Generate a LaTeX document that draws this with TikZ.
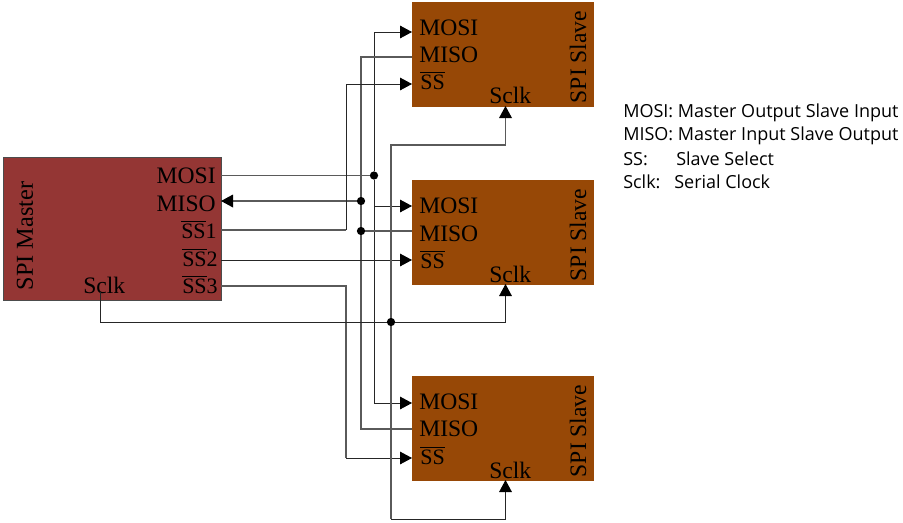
\documentclass[tikz,border=0pt]{standalone}
\usepackage{fontspec}
\setmainfont{Liberation Serif}
\newfontfamily\legendfont{Open Sans}
\usetikzlibrary{arrows.meta,positioning}
\definecolor{masterRed}{HTML}{943634}
\definecolor{slaveBrown}{HTML}{974806}
\definecolor{wireGray}{HTML}{5A5A5A}
\definecolor{wireDark}{HTML}{262626}
\newcommand{\ssbar}{{\fontsize{16.5}{20}\selectfont$\overline{\mbox{SS}}$}}
\newcommand{\ssnum}[1]{{\fontsize{16.5}{20}\selectfont$\overline{\mbox{SS}}$#1}}
\begin{document}
\begin{tikzpicture}[
  x=0.75pt, y=-0.75pt,
  font=\fontsize{17.7}{20}\selectfont,
  masterbox/.style={draw=black!70, line width=0.6pt, fill=masterRed, anchor=north west, inner sep=0pt, minimum width=163.5pt, minimum height=107.25pt},
  slavebox/.style={fill=slaveBrown, anchor=north west, inner sep=0pt, minimum width=136.5pt, minimum height=78.5pt},
  pinr/.style={anchor=base east, inner sep=0pt},
  pinl/.style={anchor=base west, inner sep=0pt},
  vert/.style={rotate=90, inner sep=0pt},
  legend/.style={anchor=base west, inner sep=0pt, font=\legendfont\fontsize{13.5}{15}\selectfont},
  wire/.style={line width=0.95pt, color=wireGray},
  wirethin/.style={line width=0.65pt, color=wireDark},
  arrow/.style={wirethin, -{Triangle[length=9pt,width=9.5pt,color=black]}},
  arrowgray/.style={wire, -{Triangle[length=9pt,width=9.5pt,color=black]}},
  dot/.style={circle, fill=black, inner sep=0pt, minimum size=6.2pt}
]
\useasboundingbox (0,0) rectangle (903,522);
% master
\node[masterbox] (master) at (3,157) {};
\node[vert, font=\fontsize{18.2}{20}\selectfont] (masterName) at (25,236) {SPI Master};
\node[pinr] (lblMosi) at (216,183) {MOSI};
\node[pinr] (lblMiso) at (216,211) {MISO};
\node[pinr] (lblSsOne) at (217,238) {\ssnum{1}};
\node[pinr] (lblSsTwo) at (218,266) {\ssnum{2}};
\node[pinr] (lblSsThree) at (218,293) {\ssnum{3}};
\node[pinl] (lblSclk) at (83,293) {Sclk};
% slaves
\foreach \n/\y/\mo/\mi/\s/\pmo/\pmi/\ps in {A/2/35/62/89/32/57/84, B/180/213/241/268/206/231/260, C/376/409/436/464/403/429/458}{
  \node[slavebox] (slave\n) at (412,\y) {};
  \node[vert] at (578,\y+55) {SPI Slave};
  \node[pinl] at (419,\mo) {MOSI};
  \node[pinl] at (419,\mi) {MISO};
  \node[pinl] at (420,\s) {\ssbar};
  \node[pinl] at (489,\s+14) {Sclk};
  \coordinate (mosi\n) at (412,\pmo);
  \coordinate (miso\n) at (412,\pmi);
  \coordinate (ss\n) at (412,\ps);
  \coordinate (sclk\n) at (505.5,\y+104);
}
% legend
\node[legend] (keyMosi) at (623,117) {MOSI: Master Output Slave Input};
\node[legend] (keyMiso) at (623,140) {MISO: Master Input Slave Output};
\node[legend] (keySs) at (623,165) {SS:};
\node[legend] (keySsText) at (676,165) {Slave Select};
\node[legend] (keySclk) at (623,188) {Sclk:};
\node[legend] (keySclkText) at (674,188) {Serial Clock};
% master pins and junctions
\coordinate (mMosi) at (221,175.5);
\coordinate (mMiso) at (221,201);
\coordinate (mSsOne) at (221,230);
\coordinate (mSsTwo) at (221,260);
\coordinate (mSsThree) at (221,286);
\coordinate (mSclk) at (100,292);
\coordinate (bendOne) at (346,230);
\coordinate (bendThree) at (346,286);
\node[dot] (jMosi) at (374,175.5) {};
\node[dot] (jMiso) at (361,201) {};
\node[dot] (jMisoB) at (361,231) {};
\node[dot] (jSclk) at (391,322) {};
\coordinate (topSclk) at (391,145);
\coordinate (botSclk) at (391,519);
% wires
\draw[wire] (mMosi) -- (jMosi);
\draw[arrow] (jMosi) |- (mosiA);
\draw[arrow] (jMosi) |- (mosiB);
\draw[arrow] (jMosi) |- (mosiC);
\draw[arrowgray] (jMiso) -- (mMiso);
\draw[wire] (jMiso) |- (misoA);
\draw[wire] (jMiso) -- (jMisoB);
\draw[wire] (jMisoB) |- (misoC);
\draw[wire] (jMisoB) -- (misoB);
\draw[wire] (mSsOne) -- (bendOne);
\draw[arrow] (bendOne) |- (ssA);
\draw[arrow] (mSsTwo) -- (ssB);
\draw[wire] (mSsThree) -- (bendThree) -- (bendThree |- ssC);
\draw[arrow] (bendThree |- ssC) -- (ssC);
\draw[wirethin] (mSclk) |- (jSclk);
\draw[arrow] (jSclk) -| (sclkB);
\draw[arrowgray] (jSclk) -- (topSclk) -| (sclkA);
\draw[wire] (jSclk) -- (botSclk);
\draw[arrow] (botSclk) -| (sclkC);
\end{tikzpicture}
\end{document}
